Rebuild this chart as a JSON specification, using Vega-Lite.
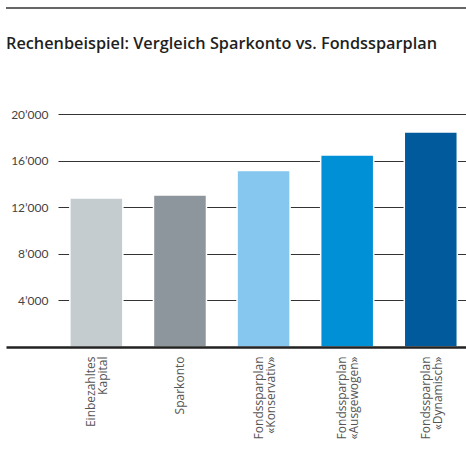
{
  "$schema": "https://vega.github.io/schema/vega-lite/v6.json",
  "width": 460,
  "height": 339,
  "autosize": {"type": "none"},
  "padding": {"left": 6, "top": 8, "right": 0, "bottom": 110},
  "title": {
    "text": "Rechenbeispiel: Vergleich Sparkonto vs. Fondssparplan",
    "anchor": "start",
    "frame": "group",
    "offset": -45,
    "font": "Open Sans",
    "fontSize": 16.3,
    "fontWeight": 600,
    "color": "#1f1f1f"
  },
  "config": {"view": {"stroke": null}},
  "layer": [
    {
      "data": {
        "values": [
          {"label": "Einbezahltes|Kapital", "value": 12800},
          {"label": "Sparkonto", "value": 13050},
          {"label": "Fondssparplan|«Konservativ»", "value": 15150},
          {"label": "Fondssparplan|«Ausgewogen»", "value": 16480},
          {"label": "Fondssparplan|«Dynamisch»", "value": 18450}
        ]
      },
      "mark": {"type": "bar", "stroke": "#ffffff", "strokeWidth": 1.5},
      "encoding": {
        "x": {
          "field": "label",
          "type": "nominal",
          "sort": null,
          "title": null,
          "scale": {"paddingInner": 0.366, "paddingOuter": 0.434, "align": 0.88},
          "axis": {
            "zindex": 1,
            "domainColor": "#222222",
            "domainWidth": 2.5,
            "ticks": false,
            "labelAngle": -90,
            "labelAlign": "right",
            "labelBaseline": "middle",
            "labelPadding": 9,
            "labelOffset": {"condition": {"test": "indexof(datum.label, '|') >= 0", "value": -5}, "value": 0},
            "labelFont": "Open Sans",
            "labelFontSize": 12,
            "labelColor": "#555555",
            "labelLineHeight": 12,
            "labelExpr": "split(datum.label, '|')"
          }
        },
        "y": {
          "field": "value",
          "type": "quantitative",
          "title": null,
          "scale": {"domain": [0, 29100], "nice": false},
          "axis": {
            "orient": "right",
            "offset": -408,
            "grid": false,
            "domain": false,
            "ticks": true,
            "tickSize": 408,
            "tickColor": "#333333",
            "tickWidth": 1,
            "values": [4000, 8000, 12000, 16000, 20000],
            "labelAlign": "right",
            "labelBaseline": "middle",
            "labelPadding": -418,
            "labelFont": "Lato",
            "labelFontSize": 12,
            "labelColor": "#444444",
            "labelExpr": "replace(format(datum.value, ','), ',', '’')"
          }
        },
        "color": {
          "field": "label",
          "type": "nominal",
          "sort": null,
          "legend": null,
          "scale": {
            "domain": ["Einbezahltes|Kapital", "Sparkonto", "Fondssparplan|«Konservativ»", "Fondssparplan|«Ausgewogen»", "Fondssparplan|«Dynamisch»"],
            "range": ["#c4ccd0", "#8c969c", "#85c7ee", "#0090d6", "#005a9c"]
          }
        }
      }
    },
    {
      "data": {"values": [{}]},
      "mark": {"type": "rule", "color": "#333333", "strokeWidth": 1.5},
      "encoding": {
        "y": {"datum": 29100, "type": "quantitative", "title": null}
      }
    }
  ]
}
